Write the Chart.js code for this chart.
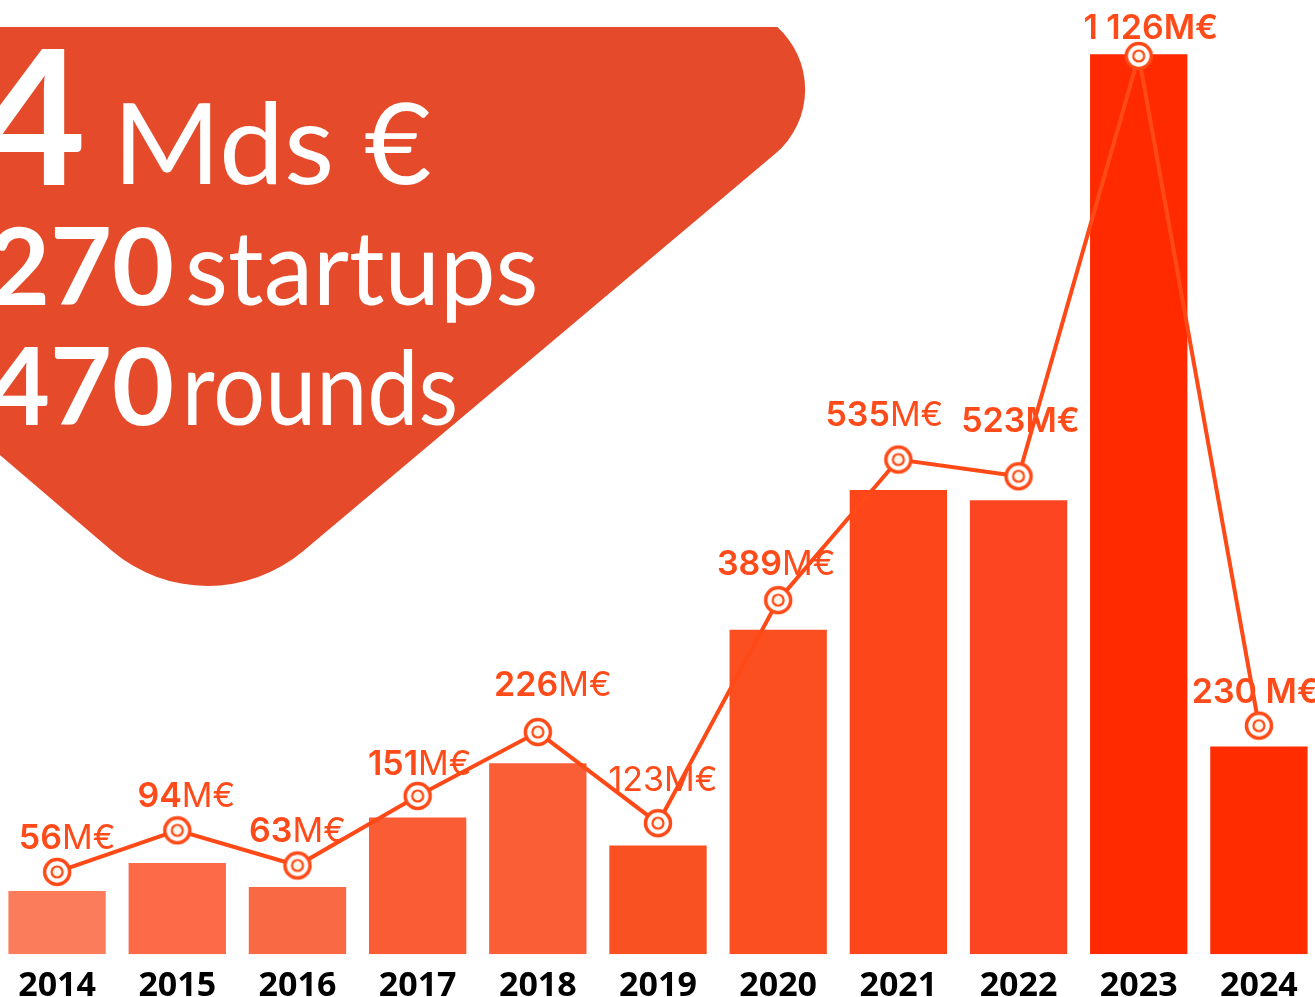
<!DOCTYPE html>
<html><head><meta charset="utf-8">
<script src="https://cdn.jsdelivr.net/npm/chart.js@4.4.1/dist/chart.umd.min.js"></script>
<style>
html,body{margin:0;padding:0;background:#fff;overflow:hidden;width:1315px;height:997px;}
#wrap{position:absolute;left:-3px;top:0;width:1322px;height:1019px;}
</style></head><body>
<div id="wrap"><canvas id="c"></canvas></div>
<script>
// ---- data ----
const years = ['2014','2015','2016','2017','2018','2019','2020','2021','2022','2023','2024'];
const fundingLabels = ['56M€','94M€','63M€','151M€','226M€','123M€','389M€','535M€','523M€','1 126M€','230 M€'];
const barValues = [79,114,84,171,239,136,406,581,568,1126,260];
const linePositions = [103,155,111,198,278,164,443,619,598,1124,286];
const headlineNumbers = ['4','270','470'];
const headlineWords = ['Mds €','startups','rounds'];

// ---- styles ----
const barColors = ['#FA7C5A','#FC6A48','#F96944','#FA5C36','#FA5E37','#FA5123','#FB4F22','#FD4619','#FD4522','#FF2A00','#FF2C00'];
const lineColor = '#FF4A17';
const labelColor = '#FF4B19';
const shapeColor = '#E54B2A';
const labelNudge = [[10,-35],[9,-36],[0,-36],[2,-33],[15,-49],[5,-45],[-2,-38],[-14,-46],[2,-57],[12,-29],[-3,-35]];
const numWeight = [600,600,600,600,600,400,600,600,600,600,600];
const sufWeight = [400,400,400,400,400,400,400,400,600,600,600];

function makeMarker(){
  const s=34, c=document.createElement('canvas'); c.width=s; c.height=s;
  const g=c.getContext('2d'), m=s/2;
  g.beginPath(); g.arc(m,m,12.5,0,Math.PI*2); g.fillStyle='#fff'; g.fill();
  g.lineWidth=3.5; g.strokeStyle=lineColor; g.stroke();
  g.beginPath(); g.arc(m,m,5.5,0,Math.PI*2); g.fillStyle='#FFF7EA'; g.fill();
  g.lineWidth=2.2; g.stroke();
  return c;
}

function fitText(ctx, text, font, left, baseline, targetW){
  ctx.font = font; ctx.textAlign='left'; ctx.textBaseline='alphabetic';
  const m = ctx.measureText(text);
  const w = m.actualBoundingBoxLeft + m.actualBoundingBoxRight;
  const sx = targetW ? targetW / w : 1;
  ctx.save(); ctx.translate(left, baseline); ctx.scale(sx,1);
  ctx.fillText(text, m.actualBoundingBoxLeft, 0); ctx.restore();
}
function rightText(ctx, text, font, right, baseline){
  ctx.font = font; ctx.textAlign='left'; ctx.textBaseline='alphabetic';
  const m = ctx.measureText(text);
  ctx.fillText(text, right - m.actualBoundingBoxRight, baseline);
}

const backdrop = {
  id:'backdrop',
  beforeDatasetsDraw(chart){
    const ctx = chart.ctx;
    ctx.save(); ctx.translate(3,0);
    ctx.beginPath(); ctx.rect(-10,27,1400,1000); ctx.clip();
    const T=[211,-457], R=[851,90], B=[207,632], L=[-433,85];
    ctx.beginPath();
    ctx.moveTo((L[0]+T[0])/2,(L[1]+T[1])/2);
    ctx.arcTo(T[0],T[1],R[0],R[1],100);
    ctx.arcTo(R[0],R[1],B[0],B[1],84);
    ctx.arcTo(B[0],B[1],L[0],L[1],148);
    ctx.arcTo(L[0],L[1],T[0],T[1],100);
    ctx.closePath();
    ctx.fillStyle = shapeColor; ctx.fill();
    ctx.fillStyle = '#fff';
    rightText(ctx, headlineNumbers[0], 'bold 188px Lato', 82, 185);
    fitText(ctx, headlineWords[0], '113px Lato', 123, 184, 307);
    rightText(ctx, headlineNumbers[1], 'bold 107px Lato', 172, 305);
    fitText(ctx, headlineWords[1], '103px Lato', 188, 305, 347);
    rightText(ctx, headlineNumbers[2], 'bold 107px Lato', 172, 425);
    fitText(ctx, headlineWords[2], '103px Lato', 188, 425, 267);
    ctx.restore();
  }
};

const valueLabels = {
  id:'valueLabels',
  afterDatasetsDraw(chart){
    const ctx = chart.ctx;
    const meta = chart.getDatasetMeta(1);
    ctx.save();
    ctx.fillStyle = labelColor; ctx.textBaseline='alphabetic'; ctx.textAlign='left';
    meta.data.forEach((pt,i)=>{
      const txt = fundingLabels[i];
      const mm = txt.match(/^(.*?)(M€)$/);
      const a = mm[1], b = mm[2];
      const fa = numWeight[i]+' 34px Inter', fb = sufWeight[i]+' 34px Inter';
      ctx.font = fa; const wa = ctx.measureText(a).width;
      ctx.font = fb; const wb = ctx.measureText(b).width;
      const cx = pt.x + labelNudge[i][0], cy = pt.y + labelNudge[i][1];
      const x0 = cx - (wa+wb)/2, base = cy + 12.5;
      ctx.font = fa; ctx.fillText(a, x0, base);
      ctx.font = fb; ctx.fillText(b, x0+wa, base);
    });
    ctx.restore();
  }
};

new Chart(document.getElementById('c'), {
  data:{
    labels: years,
    datasets:[
      {type:'bar', data: barValues, backgroundColor: barColors, borderWidth:0,
       barPercentage:0.81, categoryPercentage:1, order:2},
      {type:'line', data: linePositions, borderColor: lineColor, borderWidth:4,
       pointStyle: makeMarker(), pointRadius:14, tension:0, fill:false, order:1, clip:false}
    ]
  },
  options:{
    responsive:true, maintainAspectRatio:false, animation:false, events:[],
    layout:{autoPadding:false, padding:{left:0,right:0,top:0,bottom:0}},
    plugins:{legend:{display:false}, tooltip:{enabled:false}},
    scales:{
      x:{grid:{display:false, drawTicks:false}, border:{display:false},
         ticks:{color:'#000', font:{family:'Open Sans', weight:'bold', size:34}, padding:12, maxRotation:0}},
      y:{display:false, min:0, max:1194}
    }
  },
  plugins:[backdrop, valueLabels]
});
</script>
</body></html>
